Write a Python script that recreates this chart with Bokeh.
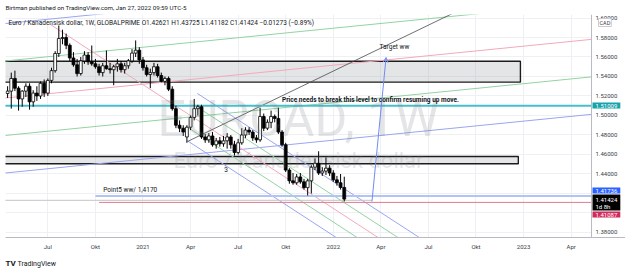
import datetime as dt

from bokeh.plotting import figure
from bokeh.models import (FixedTicker, Label, Arrow, OpenHead, Span,
                          ColumnDataSource, PrintfTickFormatter)
from bokeh.embed import file_html
from bokeh.resources import INLINE

EPOCH = dt.datetime(1970, 1, 1)


def ms(day):
    return (dt.datetime.fromisoformat(day) - EPOCH).total_seconds() * 1000.0


DAY = 86400000.0

# ---------------------------------------------------------------- data
# EUR/CAD weekly bars, first bar on the week of 2020-04-20
first_week = "2020-04-20"
opens = [1.5225, 1.5250, 1.5380, 1.5280, 1.5170, 1.5250, 1.5300, 1.5140, 1.5230, 1.5200,
         1.5330, 1.5230, 1.5360, 1.5460, 1.5636, 1.5790, 1.5800, 1.5720, 1.5590, 1.5520,
         1.5430, 1.5560, 1.5620, 1.5550, 1.5530, 1.5500, 1.5440, 1.5510, 1.5480, 1.5470,
         1.5500, 1.5530, 1.5470, 1.5510, 1.5560, 1.5640, 1.5670, 1.5570, 1.5490, 1.5420,
         1.5440, 1.5500, 1.5410, 1.5350, 1.5380, 1.5270, 1.5070, 1.4900, 1.4870, 1.4780,
         1.4880, 1.4980, 1.5070, 1.5090, 1.4780, 1.4750, 1.4790, 1.4700, 1.4740, 1.4710,
         1.4740, 1.4780, 1.4700, 1.4620, 1.4720, 1.4800, 1.4850, 1.4830, 1.4770, 1.4750,
         1.4990, 1.4870, 1.4930, 1.4990, 1.4970, 1.4830, 1.4700, 1.4440, 1.4330, 1.4310,
         1.4370, 1.4320, 1.4260, 1.4330, 1.4470, 1.4510, 1.4410, 1.4430, 1.4460, 1.4410,
         1.4340, 1.4310, 1.42621]
highs = [1.5300, 1.5440, 1.5460, 1.5300, 1.5260, 1.5330, 1.5330, 1.5260, 1.5300, 1.5350,
         1.5370, 1.5380, 1.5490, 1.5660, 1.5923, 1.5880, 1.5840, 1.5740, 1.5650, 1.5580,
         1.5600, 1.5660, 1.5650, 1.5718, 1.5580, 1.5530, 1.5540, 1.5667, 1.5540, 1.5520,
         1.5580, 1.5560, 1.5540, 1.5580, 1.5680, 1.5770, 1.5700, 1.5600, 1.5520, 1.5480,
         1.5540, 1.5530, 1.5440, 1.5400, 1.5400, 1.5300, 1.5100, 1.4950, 1.4900, 1.4900,
         1.5000, 1.5170, 1.5110, 1.5110, 1.4810, 1.4820, 1.4830, 1.4770, 1.4780, 1.4790,
         1.4820, 1.4800, 1.4740, 1.4760, 1.4870, 1.4880, 1.4880, 1.4850, 1.4800, 1.5080,
         1.5020, 1.4960, 1.5050, 1.5010, 1.5080, 1.4850, 1.4720, 1.4460, 1.4410, 1.4400,
         1.4410, 1.4350, 1.4350, 1.4490, 1.4560, 1.4633, 1.4470, 1.4570, 1.4490, 1.4440,
         1.4380, 1.4400, 1.43725]
lows = [1.5180, 1.5070, 1.5250, 1.5050, 1.5090, 1.5190, 1.5060, 1.5090, 1.5150, 1.5170,
        1.5190, 1.5200, 1.5330, 1.5440, 1.5600, 1.5730, 1.5680, 1.5560, 1.5500, 1.5400,
        1.5410, 1.5530, 1.5520, 1.5510, 1.5480, 1.5410, 1.5400, 1.5470, 1.5430, 1.5310,
        1.5450, 1.5440, 1.5430, 1.5480, 1.5540, 1.5600, 1.5530, 1.5460, 1.5400, 1.5280,
        1.5410, 1.5390, 1.5340, 1.5310, 1.5250, 1.5050, 1.4870, 1.4830, 1.4790, 1.4720,
        1.4850, 1.4950, 1.5000, 1.4760, 1.4720, 1.4720, 1.4680, 1.4660, 1.4680, 1.4680,
        1.4660, 1.4660, 1.4590, 1.4600, 1.4700, 1.4770, 1.4800, 1.4740, 1.4720, 1.4730,
        1.4840, 1.4850, 1.4870, 1.4930, 1.4810, 1.4680, 1.4420, 1.4300, 1.4290, 1.4290,
        1.4300, 1.4240, 1.4180, 1.4200, 1.4440, 1.4390, 1.4380, 1.4390, 1.4380, 1.4320,
        1.4280, 1.4240, 1.41182]
closes = [1.5250, 1.5380, 1.5280, 1.5170, 1.5250, 1.5300, 1.5140, 1.5230, 1.5200, 1.5330,
          1.5230, 1.5360, 1.5460, 1.5636, 1.5790, 1.5800, 1.5720, 1.5590, 1.5520, 1.5430,
          1.5560, 1.5620, 1.5550, 1.5530, 1.5500, 1.5440, 1.5510, 1.5480, 1.5470, 1.5500,
          1.5530, 1.5470, 1.5510, 1.5560, 1.5640, 1.5670, 1.5570, 1.5490, 1.5420, 1.5440,
          1.5500, 1.5410, 1.5350, 1.5380, 1.5270, 1.5070, 1.4900, 1.4870, 1.4830, 1.4880,
          1.4980, 1.5070, 1.5090, 1.4780, 1.4750, 1.4790, 1.4700, 1.4740, 1.4710, 1.4740,
          1.4780, 1.4700, 1.4620, 1.4720, 1.4800, 1.4850, 1.4830, 1.4770, 1.4750, 1.4990,
          1.4870, 1.4930, 1.4990, 1.4970, 1.4830, 1.4700, 1.4440, 1.4330, 1.4310, 1.4370,
          1.4320, 1.4260, 1.4330, 1.4470, 1.4510, 1.4410, 1.4430, 1.4460, 1.4410, 1.4340,
          1.4310, 1.42621, 1.41424]

# time axis labels (first weekly bar of each quarter)
tick_days = ["2020-07-06", "2020-10-05", "2021-01-04", "2021-04-05", "2021-07-05",
             "2021-10-04", "2022-01-03", "2022-04-04", "2022-07-04", "2022-10-03",
             "2023-01-02", "2023-04-03"]
tick_labels = ["Jul", "Okt", "2021", "Apr", "Jul", "Okt", "2022", "Apr", "Jul", "Okt",
               "2023", "Apr"]
price_ticks = [1.38, 1.44, 1.46, 1.48, 1.50, 1.52, 1.54, 1.56, 1.58, 1.60]

# horizontal levels
break_level = 1.51009
point5_level = 1.41736
last_close = 1.41424
low_level = 1.41087

# price scale badges: text, canvas row, background
badge_text = ["1.51009", "1.41736", "1.41424\n1d 8h", "1.41087"]
badge_row = [105, 190, 202, 214]
badge_fill = ["#17a3ab", "#2962ff", "#000000", "#d12a5c"]

# supply / demand zones: (price top, price bottom, right end)
zone_upper = (1.5557, 1.5342, "2022-12-27")
zone_lower = (1.4580, 1.4505, "2022-12-23")

# rising channel set (blue, green, pink, green, blue)
rise_start, rise_end = "2020-04-06", "2023-05-29"
rise_left = [1.5938, 1.5554, 1.5174, 1.4790, 1.4405]
rise_right = [1.6554, 1.6169, 1.5790, 1.5405, 1.5021]
rise_colors = ["#9aa6ef", "#93d3a2", "#f3a9ba", "#93d3a2", "#9aa6ef"]

# falling pitchfork lines: (start day, start price, end day, end price, colour)
fork = [
    ("2020-07-11", 1.5933, "2022-05-07", 1.3615, "#f3a9ba"),
    ("2021-04-18", 1.5226, "2022-07-25", 1.3615, "#9aa6ef"),
    ("2021-04-18", 1.5086, "2022-06-14", 1.3615, "#93d3a2"),
    ("2021-03-30", 1.4880, "2022-03-28", 1.3615, "#93d3a2"),
    ("2021-03-30", 1.4741, "2022-02-16", 1.3615, "#9aa6ef"),
]

# rising trendline from the March 2021 low
trend = ("2021-03-30", 1.4733, "2022-09-22", 1.6134)

# target arrow
arrow_from = ("2022-03-18", 1.4118)
arrow_to = ("2022-04-14", 1.5595)

# ---------------------------------------------------------------- figure
FONT = "Roboto"
YLO, YHI = 1.37487, 1.60359
x0 = ms("2020-04-16")        # left edge of the chart pane
x_sep = ms("2023-05-12")     # price-scale separator
x1 = ms("2023-07-16")        # right edge of the price scale
p = figure(width=625, height=271, x_range=(x0, x1), y_range=(YLO, YHI),
           y_axis_location="right", output_backend="svg", toolbar_location=None,
           min_border_left=5, min_border_right=0, min_border_top=14,
           min_border_bottom=34, title=None)
p.outline_line_color = None
p.background_fill_color = "white"
p.border_fill_color = "white"

p.xaxis.ticker = FixedTicker(ticks=[ms(d) for d in tick_days])
p.xaxis.major_label_overrides = {ms(d): l for d, l in zip(tick_days, tick_labels)}
p.yaxis.ticker = FixedTicker(ticks=price_ticks)
p.yaxis.formatter = PrintfTickFormatter(format="%.5f")
for ax in (p.xaxis[0], p.yaxis[0]):
    ax.major_tick_line_color = None
    ax.minor_tick_line_color = None
    ax.major_tick_out = 0
    ax.axis_line_color = "#b8bac2"
    ax.major_label_text_font = FONT
    ax.major_label_text_font_size = "6px"
    ax.major_label_text_color = "#3a3d45"
    ax.major_label_standoff = 5
# price labels sit inside the scale strip to the right of the separator
p.yaxis.major_label_standoff = -30
p.yaxis.axis_line_color = None
p.xgrid.ticker = p.xaxis[0].ticker
p.ygrid.ticker = FixedTicker(ticks=[1.38, 1.40, 1.42] + price_ticks[1:])
p.grid.grid_line_color = "#eef0f4"

# watermark
p.add_layout(Label(x=293, y=1.4969, x_units="screen", text="EURCAD, 1W",
                   text_font=FONT, text_font_size="50px", text_color="#787b86",
                   text_alpha=0.2, text_align="center", text_baseline="alphabetic"))
p.add_layout(Label(x=293, y=1.4539, x_units="screen", text="Euro / Kanadensisk dollar",
                   text_font=FONT, text_font_size="22px", text_color="#787b86",
                   text_alpha=0.2, text_align="center", text_baseline="alphabetic"))

# zones
for top, bottom, right in (zone_upper, zone_lower):
    p.quad(left=[ms("2019-12-01")], right=[ms(right)], top=[top], bottom=[bottom],
           fill_color="#787b86", fill_alpha=0.2, line_color="#1c1c1c", line_width=1.4)

# channel / pitchfork lines
for lp, rp, c in zip(rise_left, rise_right, rise_colors):
    p.line([ms(rise_start), ms(rise_end)], [lp, rp], line_color=c, line_width=1)
for d0, p0, d1, p1, c in fork:
    p.line([ms(d0), ms(d1)], [p0, p1], line_color=c, line_width=1)
p.line([ms(trend[0]), ms(trend[2])], [trend[1], trend[3]], line_color="#4a4a4a",
       line_width=0.8)

# horizontal levels
p.line([x0 - 30 * DAY, x_sep], [break_level, break_level], line_color="#45bfcc",
       line_width=2)
p.line([ms("2020-10-05"), x_sep], [point5_level, point5_level],
       line_color="#b3c4f4", line_width=2)
p.line([x0 - 30 * DAY, ms(arrow_from[0])], [1.4130, 1.4130], line_color="#c4c4c4",
       line_width=1)
p.line([ms("2020-10-12"), x_sep], [low_level, low_level],
       line_color="#e57792", line_width=1)

# candles
dates = [ms(first_week) + 7 * DAY * i for i in range(len(closes))]
up = [c >= o for o, c in zip(opens, closes)]
src = ColumnDataSource(dict(
    x=dates, o=opens, h=highs, l=lows, c=closes,
    top=[max(o, c) for o, c in zip(opens, closes)],
    bot=[min(o, c) for o, c in zip(opens, closes)],
    fill=["white" if u else "black" for u in up],
))
p.segment(x0="x", y0="h", x1="x", y1="l", source=src, line_color="black", line_width=1)
p.vbar(x="x", width=5.5 * DAY, top="top", bottom="bot", source=src,
       fill_color="fill", line_color="black", line_width=0.8)

# blank price-scale strip over the grid and the drawings
p.quad(left=[x_sep], right=[x1 + 30 * DAY], top=[YHI + 0.05], bottom=[YLO - 0.05],
       fill_color="white", line_color=None)
p.add_layout(Span(location=x_sep, dimension="height", line_color="#b8bac2",
                  line_width=1))

# arrow to the target
p.add_layout(Arrow(x_start=ms(arrow_from[0]), y_start=arrow_from[1],
                   x_end=ms(arrow_to[0]), y_end=arrow_to[1],
                   line_color="#6f8cf2", line_width=1,
                   end=OpenHead(size=5, line_color="#6f8cf2", line_width=1)))

# drawing texts
note_style = dict(text_font=FONT, text_font_size="6.5px", text_color="#131722")
p.add_layout(Label(x=ms("2021-09-27"), y=break_level, y_offset=2,
                   text="Price needs to break this level to confirm resuming up move.",
                   text_font_style="bold", text_baseline="bottom", **note_style))
p.add_layout(Label(x=ms("2022-04-30"), y=1.5666, text="Target ww", text_align="center",
                   text_baseline="bottom", **note_style))
p.add_layout(Label(x=ms("2021-06-12"), y=1.4446, text="3", text_align="center",
                   text_baseline="middle", **note_style))
p.add_layout(Label(x=ms("2020-10-20"), y=point5_level, y_offset=2,
                   text="Point5 ww/ 1,4170", text_baseline="bottom", **note_style))
p.add_layout(Label(x=8, y=22, x_units="canvas", y_units="canvas",
                   text="Euro / Kanadensisk dollar, 1W, GLOBALPRIME   O1.42621  H1.43725  "
                        "L1.41182  C1.41424  \u22120.01273 (\u22120.89%)",
                   text_baseline="middle", **note_style))

# price scale badges and currency tag
for txt, row, fill in zip(badge_text, badge_row, badge_fill):
    p.add_layout(Label(x=592, y=row, x_units="canvas", y_units="canvas", text=txt,
                       text_font=FONT, text_font_size="6px", text_color="white",
                       text_line_height=1.0, text_baseline="middle",
                       background_fill_color=fill, padding=dict(x=3, y=1)))
p.add_layout(Label(x=598, y=22, x_units="canvas", y_units="canvas", text="CAD",
                   text_font=FONT, text_font_size="5.5px", text_color="#3a3d45",
                   text_baseline="middle", background_fill_color="white",
                   border_line_color="#c8cad0", padding=1))

# header and footer live in the side panels
p.add_layout(Label(x=5, y=7, x_units="canvas", y_units="canvas",
                   text="Birtman published on TradingView.com, Jan 27, 2022 09:59 UTC-5",
                   text_font=FONT, text_font_size="6.2px", text_color="#131722",
                   text_baseline="middle"), "above")
p.add_layout(Label(x=5, y=263, x_units="canvas", y_units="canvas", text="TV",
                   text_font=FONT, text_font_size="8px", text_font_style="bold",
                   text_color="#131722", text_baseline="middle"), "below")
p.add_layout(Label(x=17, y=263, x_units="canvas", y_units="canvas", text="TradingView",
                   text_font=FONT, text_font_size="7px", text_color="#131722",
                   text_baseline="middle"), "below")

open("out.html", "w").write(file_html(p, INLINE))
